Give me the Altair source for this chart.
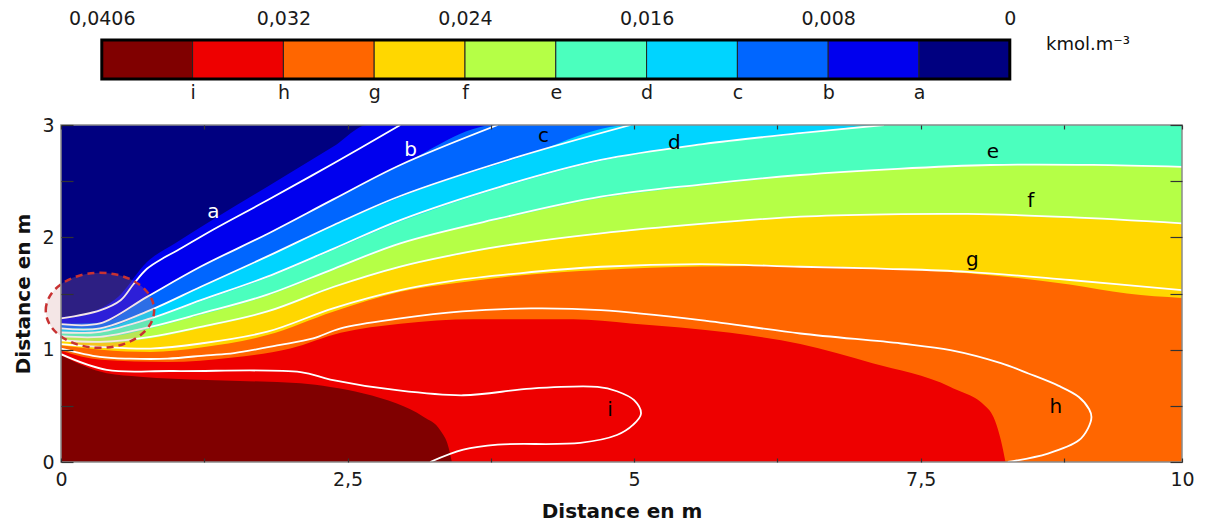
import altair as alt
import pandas as pd

# ---------------- colour bar ----------------
CB_COLORS = ["#800000", "#EE0000", "#FF6600", "#FFD700", "#B5FF46",
             "#4BFFBE", "#00D4FF", "#0066FF", "#0000EE", "#000080"]
CB_VALUE_POS = [0, 2, 4, 6, 8, 10]
CB_VALUE_LABELS = ["0,0406", "0,032", "0,024", "0,016", "0,008", "0"]
CB_LETTER_POS = [1, 2, 3, 4, 5, 6, 7, 8, 9]
CB_LETTERS = ["i", "h", "g", "f", "e", "d", "c", "b", "a"]
UNIT_TEXT = ["kmol.m⁻³"]
UNIT_X = [10.4]
UNIT_Y = [0.87]

# ---------------- axes ----------------
X_DOMAIN = [0, 9.78]
Y_DOMAIN = [0, 3]
X_TICKS = [0, 1.25, 2.5, 3.75, 5, 6.25, 7.5, 8.75, 9.78]
X_TICK_LABELS = ["0", "", "2,5", "", "5", "", "7,5", "", "10"]
Y_TICKS = [0, 0.5, 1, 1.5, 2, 2.5, 3]
Y_TICK_LABELS = ["0", "", "1", "", "2", "", "3"]
AXIS_TITLE = "Distance en m"

# ---------------- filled bands (upper edge of each band) ----------------
NAVY_X = [0, 9.78]
NAVY_Y = [3.0, 3.0]
FILL_A_X = [0, 0.25, 0.5, 0.75, 1.0, 1.33, 1.8, 2.38, 2.68, 9.78]
FILL_A_Y = [1.29, 1.33, 1.47, 1.78, 1.95, 2.16, 2.45, 2.81, 3.0, 3.0]
FILL_B_X = [0, 0.35, 0.75, 1.22, 1.8, 2.38, 2.96, 3.8, 9.78]
FILL_B_Y = [1.23, 1.24, 1.47, 1.74, 2.03, 2.34, 2.64, 3.0, 3.0]
FILL_C_X = [0, 0.35, 0.78, 1.22, 1.8, 2.38, 2.96, 4.0, 4.97, 9.78]
FILL_C_Y = [1.19, 1.19, 1.35, 1.56, 1.83, 2.11, 2.36, 2.71, 3.0, 3.0]
FILL_D_X = [0, 0.35, 0.78, 1.22, 1.8, 2.38, 2.96, 3.83, 4.71, 5.6, 6.45, 7.18, 9.78]
FILL_D_Y = [1.15, 1.16, 1.27, 1.43, 1.64, 1.89, 2.14, 2.44, 2.68, 2.83, 2.92, 3.0, 3.0]
FILL_E_X = [0, 0.35, 0.78, 1.22, 1.8, 2.38, 2.96, 3.83, 4.71, 5.58, 6.45, 7.3, 8.11, 9.0, 9.78]
FILL_E_Y = [1.12, 1.11, 1.19, 1.31, 1.48, 1.71, 1.94, 2.16, 2.35, 2.46, 2.55, 2.61, 2.64, 2.645, 2.63]
FILL_F_X = [0, 0.35, 0.78, 1.22, 1.8, 2.38, 2.96, 3.4, 3.83, 4.71, 5.58, 6.45, 7.2, 7.91, 8.8, 9.78]
FILL_F_Y = [1.08, 1.06, 1.10, 1.19, 1.33, 1.55, 1.73, 1.83, 1.91, 2.03, 2.11, 2.18, 2.20, 2.20, 2.17, 2.12]
FILL_G_X = [0, 0.35, 0.78, 1.22, 1.8, 2.38, 2.96, 3.5, 4.0, 4.71, 5.58, 6.45, 7.2, 7.91, 8.8, 9.3, 9.78]
FILL_G_Y = [1.04, 1.00, 0.98, 1.02, 1.13, 1.34, 1.515, 1.60, 1.66, 1.71, 1.74, 1.745, 1.72, 1.68, 1.58, 1.50, 1.46]
FILL_H_X = [0, 0.35, 0.93, 1.5, 2.0, 2.44, 2.96, 3.6, 4.47, 4.97, 5.84, 6.45, 7.08, 7.76, 8.10, 8.20, 8.24]
FILL_H_Y = [0.99, 0.91, 0.89, 0.93, 1.01, 1.15, 1.23, 1.27, 1.27, 1.233, 1.15, 1.05, 0.88, 0.668, 0.46, 0.193, 0.0]
FILL_I_X = [0, 0.4, 0.69, 1.27, 2.09, 2.35, 2.64, 2.93, 3.165, 3.31, 3.38, 3.41]
FILL_I_Y = [0.95, 0.79, 0.76, 0.73, 0.70, 0.668, 0.61, 0.52, 0.40, 0.28, 0.134, 0.0]

# ---------------- white iso-lines ----------------
LINE_A_X = [0, 0.34, 0.52, 0.63, 0.75, 0.9, 1.01, 1.33, 1.8, 2.38, 2.96]
LINE_A_Y = [1.278, 1.35, 1.44, 1.58, 1.72, 1.82, 1.88, 2.07, 2.33, 2.66, 3.0]
LINE_B_X = [0, 0.34, 0.75, 1.22, 1.8, 2.38, 2.96, 3.81]
LINE_B_Y = [1.227, 1.233, 1.47, 1.74, 2.03, 2.34, 2.644, 3.0]
LINE_C_X = [0, 0.34, 0.78, 1.22, 1.8, 2.38, 2.96, 4.0, 4.97]
LINE_C_Y = [1.189, 1.189, 1.352, 1.56, 1.83, 2.11, 2.368, 2.72, 3.0]
LINE_D_X = [0, 0.34, 0.78, 1.22, 1.8, 2.38, 2.96, 3.83, 4.71, 5.6, 6.45, 7.18]
LINE_D_Y = [1.153, 1.159, 1.278, 1.441, 1.65, 1.90, 2.154, 2.45, 2.689, 2.83, 2.927, 3.0]
LINE_E_X = [0, 0.34, 0.78, 1.22, 1.8, 2.38, 2.96, 3.83, 4.71, 5.58, 6.45, 7.3, 8.11, 9.0, 9.78]
LINE_E_Y = [1.12, 1.114, 1.203, 1.322, 1.49, 1.72, 1.947, 2.17, 2.362, 2.47, 2.555, 2.61, 2.644, 2.645, 2.627]
LINE_F_X = [0, 0.34, 0.78, 1.22, 1.8, 2.38, 2.96, 3.4, 3.83, 4.71, 5.58, 6.45, 7.2, 7.91, 8.8, 9.78]
LINE_F_Y = [1.084, 1.07, 1.114, 1.203, 1.34, 1.56, 1.74, 1.84, 1.92, 2.036, 2.12, 2.184, 2.205, 2.208, 2.18, 2.125]
LINE_G_X = [0, 0.34, 0.78, 1.22, 1.8, 2.38, 2.96, 3.4, 4.0, 4.71, 5.58, 6.45, 7.2, 7.91, 8.8, 9.78]
LINE_G_Y = [1.049, 1.025, 1.01, 1.055, 1.16, 1.37, 1.53, 1.61, 1.68, 1.738, 1.762, 1.738, 1.72, 1.693, 1.62, 1.53]
LINE_H_X = [0, 0.34, 0.6, 0.93, 1.27, 1.51, 1.9, 2.2, 2.44, 2.96, 3.5, 4.1, 4.71, 5.58, 6.45,
            7.33, 7.76, 8.2, 8.44, 8.7, 8.88, 8.97, 8.99, 8.96, 8.88, 8.61, 8.26]
LINE_H_Y = [1.01, 0.936, 0.92, 0.92, 0.95, 0.97, 1.04, 1.10, 1.19, 1.278, 1.34, 1.367, 1.352, 1.263, 1.144,
            1.055, 0.996, 0.88, 0.788, 0.68, 0.579, 0.47, 0.40, 0.30, 0.193, 0.075, 0.0]
LINE_I_X = [0, 0.4, 0.98, 2.09, 2.35, 2.93, 3.51, 4.1, 4.68, 4.85, 5.0, 5.06, 4.99, 4.85, 4.53, 3.81, 3.51, 3.22]
LINE_I_Y = [0.96, 0.82, 0.81, 0.80, 0.734, 0.639, 0.594, 0.654, 0.668, 0.63, 0.55, 0.43, 0.33, 0.24, 0.17, 0.155, 0.11, 0.0]

# ---------------- annotations ----------------
TAG_TEXT = ["a", "b", "c", "d", "e", "f", "g", "h", "i"]
TAG_X = [1.33, 3.05, 4.21, 5.35, 8.13, 8.46, 7.95, 8.68, 4.79]
TAG_Y = [2.225, 2.78, 2.90, 2.84, 2.76, 2.32, 1.80, 0.49, 0.46]
TAG_INK = ["white", "white", "black", "black", "black", "black", "black", "black", "black"]
ELLIPSE_X = [0.34]
ELLIPSE_Y = [1.35]

FONT = "DejaVu Sans"
XS = alt.Scale(domain=X_DOMAIN, nice=False, zero=False)
YS = alt.Scale(domain=Y_DOMAIN, nice=False, zero=False)


def label_expr(pos, labels):
    expr = "''"
    for p, l in reversed(list(zip(pos, labels))):
        expr = f"abs(datum.value - {p}) < 1e-6 ? '{l}' : ({expr})"
    return expr


tick_style = dict(domain=False, grid=False, ticks=True, tickColor="#333333", tickWidth=1.2, zindex=1,
                  labelFlush=False, labelOverlap=False)

x_bottom = alt.Axis(orient="bottom", values=X_TICKS, labelExpr=label_expr(X_TICKS, X_TICK_LABELS),
                    offset=-4, tickSize=4, labelPadding=8, title=AXIS_TITLE, titlePadding=12, **tick_style)
y_left = alt.Axis(orient="left", values=Y_TICKS, labelExpr=label_expr(Y_TICKS, Y_TICK_LABELS),
                  offset=-12, tickSize=12, labelPadding=7, title=AXIS_TITLE, titlePadding=8, **tick_style)
x_top = alt.Axis(orient="top", values=X_TICKS, labels=False, offset=-4, tickSize=4, title=None, **tick_style)
y_right = alt.Axis(orient="right", values=Y_TICKS, labels=False, offset=-12, tickSize=12, title=None, **tick_style)

bands = [
    (NAVY_X, NAVY_Y, CB_COLORS[9]),
    (FILL_A_X, FILL_A_Y, CB_COLORS[8]),
    (FILL_B_X, FILL_B_Y, CB_COLORS[7]),
    (FILL_C_X, FILL_C_Y, CB_COLORS[6]),
    (FILL_D_X, FILL_D_Y, CB_COLORS[5]),
    (FILL_E_X, FILL_E_Y, CB_COLORS[4]),
    (FILL_F_X, FILL_F_Y, CB_COLORS[3]),
    (FILL_G_X, FILL_G_Y, CB_COLORS[2]),
    (FILL_H_X, FILL_H_Y, CB_COLORS[1]),
    (FILL_I_X, FILL_I_Y, CB_COLORS[0]),
]

layers = []
for k, (bx, by, col) in enumerate(bands):
    df = pd.DataFrame({"x": bx, "y": by})
    first = k == 0
    layers.append(
        alt.Chart(df).mark_area(color=col, opacity=1, interpolate="monotone", clip=True).encode(
            x=alt.X("x:Q", scale=XS, axis=x_bottom if first else None),
            y=alt.Y("y:Q", scale=YS, stack=None, axis=y_left if first else None),
        )
    )

line_sets = [("a", LINE_A_X, LINE_A_Y), ("b", LINE_B_X, LINE_B_Y), ("c", LINE_C_X, LINE_C_Y),
             ("d", LINE_D_X, LINE_D_Y), ("e", LINE_E_X, LINE_E_Y), ("f", LINE_F_X, LINE_F_Y),
             ("g", LINE_G_X, LINE_G_Y), ("h", LINE_H_X, LINE_H_Y), ("i", LINE_I_X, LINE_I_Y)]
rows = []
for name, lx, ly in line_sets:
    for j, (xv, yv) in enumerate(zip(lx, ly)):
        rows.append({"name": name, "ord": j, "x": xv, "y": yv})
lines_df = pd.DataFrame(rows)
layers.append(
    alt.Chart(lines_df).mark_line(color="white", strokeWidth=1.8, interpolate="catmull-rom", clip=True).encode(
        x=alt.X("x:Q", scale=XS, axis=x_top),
        y=alt.Y("y:Q", scale=YS, axis=y_right),
        detail="name:N",
        order="ord:Q",
    )
)

ell_df = pd.DataFrame({"x": ELLIPSE_X, "y": ELLIPSE_Y})
layers.append(
    alt.Chart(ell_df).mark_point(
        shape="M -1 0 A 1 0.692 0 1 1 1 0 A 1 0.692 0 1 1 -1 0 Z",
        size=11750, filled=True, fill="#cc8c8c", fillOpacity=0.22, opacity=1,
        stroke="#c83232", strokeOpacity=1, strokeWidth=2.5, strokeDash=[7, 5],
    ).encode(x=alt.X("x:Q", scale=XS, axis=None), y=alt.Y("y:Q", scale=YS, axis=None))
)

tag_df = pd.DataFrame({"x": TAG_X, "y": TAG_Y, "t": TAG_TEXT, "ink": TAG_INK})
layers.append(
    alt.Chart(tag_df).mark_text(font=FONT, fontSize=20, align="center", baseline="middle").encode(
        x=alt.X("x:Q", scale=XS, axis=None),
        y=alt.Y("y:Q", scale=YS, axis=None),
        text="t:N",
        color=alt.Color("ink:N", scale=None),
    )
)

frame_df = pd.DataFrame({"x0": [X_DOMAIN[0]], "x1": [X_DOMAIN[1]], "y0": [Y_DOMAIN[0]], "y1": [Y_DOMAIN[1]]})
layers.append(
    alt.Chart(frame_df).mark_rect(fillOpacity=0, stroke="#8a8a8a", strokeWidth=1.5).encode(
        x=alt.X("x0:Q", scale=XS, axis=None), x2="x1:Q",
        y=alt.Y("y0:Q", scale=YS, axis=None), y2="y1:Q",
    )
)

main = alt.layer(*layers).resolve_axis(x="independent", y="independent").properties(
    width=1121, height=337, view=alt.ViewBackground(stroke="transparent")
)

# ---------------- colour bar chart ----------------
n_seg = len(CB_COLORS)
CBX = alt.Scale(domain=[0, n_seg], range=[40.8, 948.8], nice=False, zero=False)
CBY = alt.Scale(domain=[0, 1], nice=False, zero=False)
seg_df = pd.DataFrame({"lo": list(range(n_seg)), "hi": [k + 1 for k in range(n_seg)],
                       "b0": [0] * n_seg, "b1": [1] * n_seg, "col": CB_COLORS})
seg = alt.Chart(seg_df).mark_rect(stroke="#222222", strokeWidth=1).encode(
    x=alt.X("lo:Q", scale=CBX, axis=alt.Axis(orient="top", values=CB_VALUE_POS,
                                             labelExpr=label_expr(CB_VALUE_POS, CB_VALUE_LABELS),
                                             ticks=False, domain=False, grid=False, labelPadding=12,
                                             labelFlush=False, labelOverlap=False, title=None)),
    x2="hi:Q",
    y=alt.Y("b0:Q", scale=CBY, axis=None),
    y2="b1:Q",
    color=alt.Color("col:N", scale=None),
)
outer_df = pd.DataFrame({"lo": [0], "hi": [n_seg], "b0": [0], "b1": [1]})
outer = alt.Chart(outer_df).mark_rect(fillOpacity=0, stroke="black", strokeWidth=3).encode(
    x=alt.X("lo:Q", scale=CBX, axis=alt.Axis(orient="bottom", values=CB_LETTER_POS,
                                             labelExpr=label_expr(CB_LETTER_POS, CB_LETTERS),
                                             ticks=False, domain=False, grid=False, labelPadding=4,
                                             labelFlush=False, labelOverlap=False, title=None)),
    x2="hi:Q",
    y=alt.Y("b0:Q", scale=CBY, axis=None),
    y2="b1:Q",
)
unit_df = pd.DataFrame({"x": UNIT_X, "y": UNIT_Y, "t": UNIT_TEXT})
unit = alt.Chart(unit_df).mark_text(font=FONT, fontSize=18, align="left", baseline="middle", color="#111111").encode(
    x=alt.X("x:Q", scale=CBX, axis=None),
    y=alt.Y("y:Q", scale=CBY, axis=None),
    text="t:N",
)
cbar = alt.layer(seg, outer, unit).resolve_axis(x="independent").properties(
    width=1121, height=39, view=alt.ViewBackground(stroke="transparent")
)

chart = alt.vconcat(cbar, main, spacing=46, bounds="flush").properties(
    padding={"left": 5, "top": 0, "right": 5, "bottom": 0}, background="white"
).configure_axis(
    labelFont=FONT, labelFontSize=19, labelColor="#1a1a1a",
    titleFont=FONT, titleFontSize=20, titleFontWeight="bold", titleColor="#111111",
)

chart.save("out.html", embed_options={"renderer": "svg", "actions": False})
